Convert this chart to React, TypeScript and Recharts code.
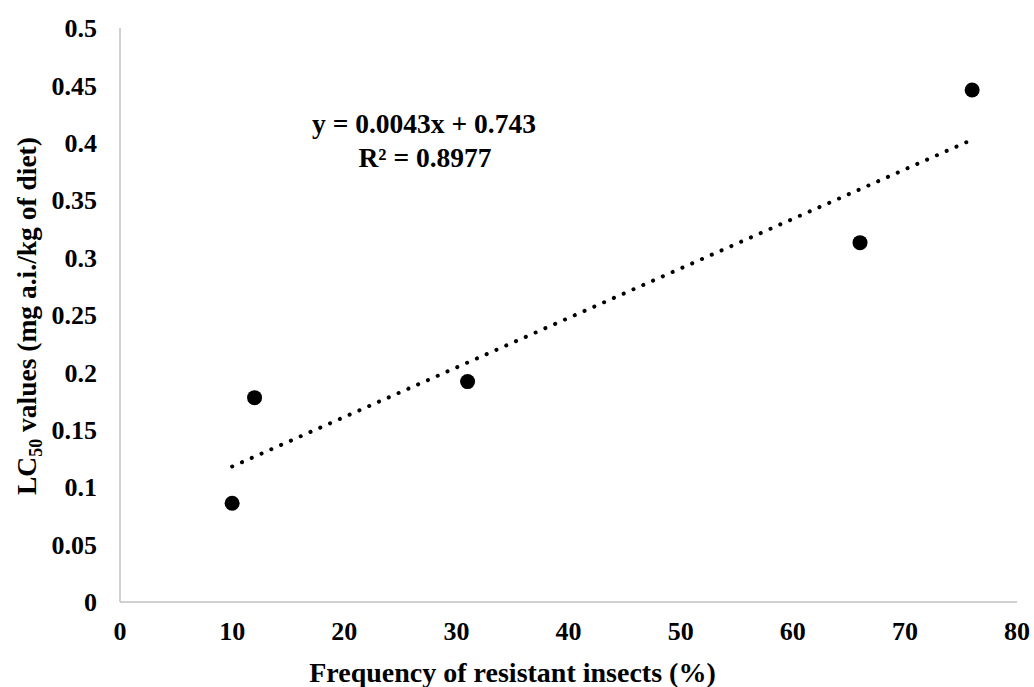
import { ScatterChart, Scatter, XAxis, YAxis, Label, Customized } from 'recharts';

// measured points
const freq = [10, 12, 31, 66, 76];
const lc50 = [0.086, 0.178, 0.192, 0.313, 0.446];

// linear trendline end points
const trendX = [10, 75.6];
const trendY = [0.118, 0.401];

const xTicks = [0, 10, 20, 30, 40, 50, 60, 70, 80];
const yTicks = [0, 0.05, 0.1, 0.15, 0.2, 0.25, 0.3, 0.35, 0.4, 0.45, 0.5];

const equation = 'y = 0.0043x + 0.743';
const rSquared = 'R² = 0.8977';

const points = freq.map((x, i) => ({ x, y: lc50[i] }));
const trend = trendX.map((x, i) => ({ x, y: trendY[i] }));

const font = '"Liberation Serif", "Times New Roman", serif';
const tickStyle = { fontFamily: font, fontSize: 26, fontWeight: 700, fill: '#000' };

const Dot = (p: any) => <circle cx={p.cx} cy={p.cy} r={7.5} fill="#000" />;
const NoDot = () => <g />;

const Annotations = () => (
  <g fontFamily={font} fontWeight={700} fill="#000">
    <text x={424} y={133} fontSize={27.5} textAnchor="middle">{equation}</text>
    <text x={425} y={167} fontSize={27.5} textAnchor="middle">{rSquared}</text>
    <text transform="translate(36,495) rotate(-90)" fontSize={27.5} textAnchor="start">
      LC<tspan fontSize={18} dy={6}>50</tspan>
      <tspan dy={-6}> values (mg a.i./kg of diet)</tspan>
    </text>
  </g>
);

export default function App() {
  return (
    <div style={{ position: 'absolute', left: 0, top: 0, background: '#fff' }}>
      <ScatterChart width={1034} height={687} margin={{ top: 28, right: 17, bottom: 0, left: 0 }}>
        <XAxis
          type="number"
          dataKey="x"
          domain={[0, 80]}
          ticks={xTicks}
          height={85}
          tickLine={false}
          tickSize={0}
          tickMargin={20}
          tick={tickStyle}
          axisLine={{ stroke: '#c0c0c0', strokeWidth: 1.5 }}
        >
          <Label
            value="Frequency of resistant insects (%)"
            position="insideBottom"
            offset={5}
            dx={-56}
            style={{ fontFamily: font, fontSize: 28, fontWeight: 700, fill: '#000' }}
          />
        </XAxis>
        <YAxis
          type="number"
          dataKey="y"
          domain={[0, 0.5]}
          ticks={yTicks}
          width={120}
          tickLine={false}
          tickSize={0}
          tickMargin={23}
          tick={tickStyle}
          axisLine={{ stroke: '#c0c0c0', strokeWidth: 1.5 }}
        />
        <Scatter
          data={trend}
          shape={NoDot}
          line={{ stroke: '#000', strokeWidth: 4, strokeDasharray: '0.1 10.6', strokeLinecap: 'round' }}
          isAnimationActive={false}
        />
        <Scatter data={points} shape={Dot} fill="#000" isAnimationActive={false} />
        <Customized component={Annotations} />
      </ScatterChart>
    </div>
  );
}
